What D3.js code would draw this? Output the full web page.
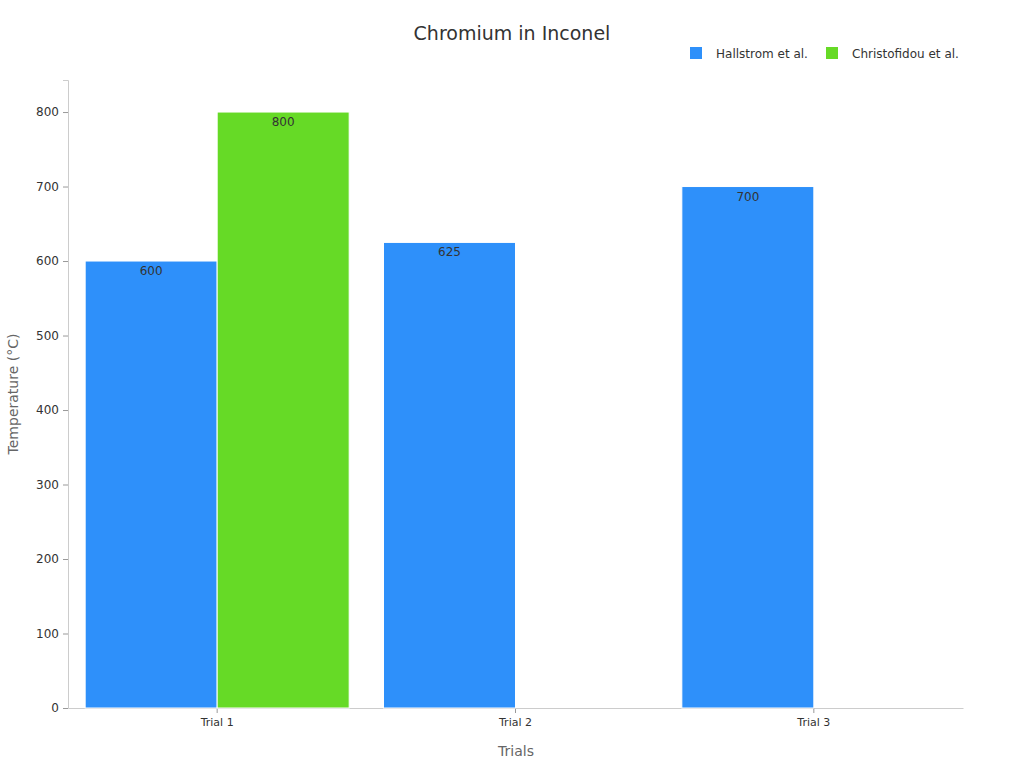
<!DOCTYPE html>
<html>
<head>
<meta charset="utf-8">
<script src="https://cdn.jsdelivr.net/npm/d3@7"></script>
<style>
body { margin: 0; background: #fff; font-family: "DejaVu Sans", sans-serif; }
</style>
</head>
<body>
<svg id="chart" width="1024" height="768"></svg>
<script>
const trials = ["Trial 1", "Trial 2", "Trial 3"];
const seriesNames = ["Hallstrom et al.", "Christofidou et al."];
const hallstrom = [600, 625, 700];
const christofidou = [800, null, null];
const yTicks = [0, 100, 200, 300, 400, 500, 600, 700, 800];
const colors = ["#2e90fa", "#66da26"];

const svg = d3.select("#chart");
const margin = { left: 68, right: 61, top: 80, bottom: 60 };
const width = 1024, height = 768;

const x = d3.scaleBand().domain(trials).range([margin.left, width - margin.right]).padding(0);
const x1 = d3.scaleBand().domain(seriesNames).range([0, x.bandwidth()]).paddingOuter(0.13).paddingInner(0);
const y = d3.scaleLinear().domain([0, 843]).range([height - margin.bottom, margin.top]);

// y axis
const yAxis = svg.append("g")
    .attr("transform", `translate(${margin.left},0)`)
    .call(d3.axisLeft(y).tickValues(yTicks).tickSize(5).tickPadding(4));
yAxis.select(".domain").attr("stroke", "#ccc");
yAxis.selectAll(".tick line").attr("stroke", "#999");
yAxis.selectAll("text").attr("font-size", 12).attr("fill", "#333").attr("font-family", "DejaVu Sans");

// x axis
const xAxis = svg.append("g")
    .attr("transform", `translate(0,${height - margin.bottom})`)
    .call(d3.axisBottom(x).tickSize(5).tickPadding(5).tickSizeOuter(0));
xAxis.select(".domain").attr("stroke", "#ccc");
xAxis.selectAll(".tick line").attr("stroke", "#999");
xAxis.selectAll("text").attr("font-size", 11).attr("fill", "#333").attr("font-family", "DejaVu Sans");

// bars
const data = [hallstrom, christofidou];
data.forEach((vals, si) => {
    trials.forEach((t, i) => {
        const v = vals[i];
        if (v === null) return;
        const bx = x(t) + x1(seriesNames[si]);
        svg.append("rect")
            .attr("x", bx)
            .attr("y", y(v))
            .attr("width", x1.bandwidth())
            .attr("height", y(0) - y(v))
            .attr("fill", colors[si])
            .attr("stroke", "#fff")
            .attr("stroke-width", 1);
        svg.append("text")
            .attr("x", bx + x1.bandwidth() / 2)
            .attr("y", y(v) + 14)
            .attr("text-anchor", "middle")
            .attr("font-size", 12)
            .attr("fill", "#333")
            .text(v);
    });
});

// title
svg.append("text")
    .attr("x", 512).attr("y", 40)
    .attr("text-anchor", "middle")
    .attr("font-size", 19)
    .attr("fill", "#333")
    .text("Chromium in Inconel");

// axis titles
svg.append("text")
    .attr("x", 516).attr("y", 756)
    .attr("text-anchor", "middle")
    .attr("font-size", 14)
    .attr("fill", "#666")
    .text("Trials");
svg.append("text")
    .attr("transform", "translate(18,394) rotate(-90)")
    .attr("text-anchor", "middle")
    .attr("font-size", 14)
    .attr("fill", "#666")
    .text("Temperature (°C)");

// legend
const legendX = [690, 826];
seriesNames.forEach((name, i) => {
    svg.append("rect")
        .attr("x", legendX[i]).attr("y", 47)
        .attr("width", 12).attr("height", 12)
        .attr("fill", colors[i]);
    svg.append("text")
        .attr("x", legendX[i] + 26).attr("y", 58)
        .attr("font-size", 12)
        .attr("fill", "#333")
        .text(name);
});
</script>
</body>
</html>
